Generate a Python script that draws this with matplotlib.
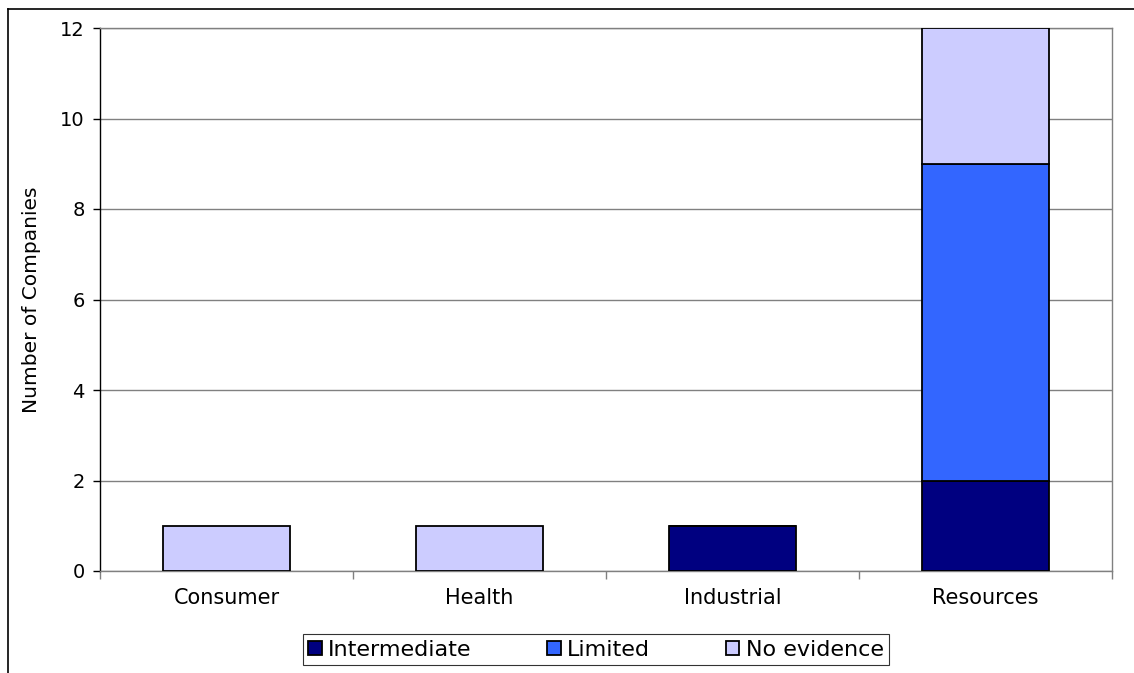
import matplotlib
matplotlib.use("Agg")
import matplotlib.pyplot as plt
from matplotlib.lines import Line2D
import numpy as np

categories = ["Consumer", "Health", "Industrial", "Resources"]
series_names = ["Intermediate", "Limited", "No evidence"]
intermediate = [0, 0, 1, 2]
limited = [0, 0, 0, 7]
no_evidence = [1, 1, 0, 3]
colors = ["#000080", "#3366FF", "#CCCCFF"]
yticks = [0, 2, 4, 6, 8, 10, 12]

plt.rcParams['font.family'] = ['DejaVu Sans']
fig = plt.figure(figsize=(11.34, 6.73), dpi=100)
ax = fig.add_axes([100/1134, 1-571/673, (1112-100)/1134, (571-28)/673])

x = np.arange(len(categories))
bottom = np.zeros(len(categories))
for vals, name, c in zip([intermediate, limited, no_evidence], series_names, colors):
    vals = np.array(vals, dtype=float)
    ax.bar(x, vals, width=0.5, bottom=bottom, color=c, edgecolor="black",
           linewidth=1.3, label=name, zorder=3)
    bottom += vals

ax.set_xlim(-0.5, len(categories) - 0.5)
ax.set_ylim(0, 12)
ax.set_yticks(yticks)
ax.set_yticklabels([str(t) for t in yticks], fontsize=14)
ax.yaxis.grid(True, color="#808080", linewidth=1, zorder=0)
ax.set_xticks(x)
ax.set_xticklabels(categories, fontsize=15)
ax.tick_params(axis="x", length=0, pad=12)
ax.set_xticks(np.arange(len(categories) + 1) - 0.5, minor=True)
ax.tick_params(axis="x", which="minor", length=6, color="#808080", width=1)
ax.tick_params(axis="y", length=5, color="black", width=1, pad=6)
ax.spines["left"].set_color("black")
ax.spines["bottom"].set_color("#808080")
ax.spines["right"].set_color("#808080")
ax.spines["top"].set_color("#808080")
for s in ax.spines.values():
    s.set_linewidth(1)
ax.set_ylabel("Number of Companies", fontsize=14.5, labelpad=14)

leg = fig.legend(loc="center", bbox_to_anchor=(596/1134, 1-649.5/673), ncol=3,
                 fontsize=16, frameon=True, fancybox=False, edgecolor="black",
                 handlelength=0.6, handleheight=0.6, handletextpad=0.3,
                 columnspacing=3.4, borderpad=0.25, borderaxespad=0)
leg.get_frame().set_linewidth(0.8)

fig.add_artist(Line2D([8/1134, 8/1134], [0, 1-9/673], color="black", linewidth=1.2, transform=fig.transFigure))
fig.add_artist(Line2D([8/1134, 1], [1-9/673, 1-9/673], color="black", linewidth=1.2, transform=fig.transFigure))

fig.savefig("out.png", dpi=100)
